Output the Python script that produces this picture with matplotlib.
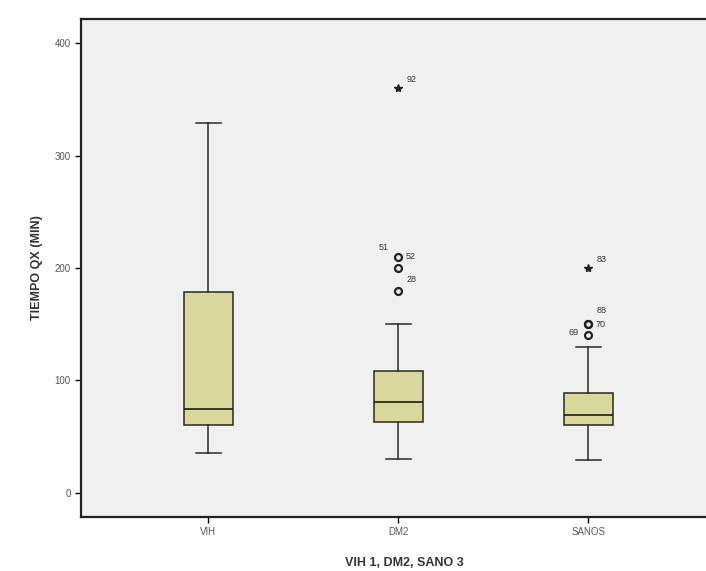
import matplotlib.pyplot as plt

# groups and box statistics (minutes)
groups = ['VIH', 'DM2', 'SANOS']
whisk_lo = [35, 30, 29]
q1 = [60, 63, 60]
medians = [75, 81, 69]
q3 = [179, 108, 89]
whisk_hi = [329, 150, 130]

# outliers (circles) and extremes (stars), with case labels
out_group = [2, 2, 2, 3, 3, 3]
out_vals = [210, 200, 180, 150, 150, 140]
out_labels = ['52', '51', '28', '70', '88', '69']
ext_group = [2, 3]
ext_vals = [360, 200]
ext_labels = ['92', '83']

plt.rcParams['font.family'] = ['Liberation Sans', 'DejaVu Sans']

fig = plt.figure(figsize=(7.06, 5.71), dpi=100)
ax = fig.add_axes([0.1147, 0.0946, 0.915, 0.872])
ax.set_facecolor('#f0f0f0')

stats = []
for i, g in enumerate(groups):
    stats.append({'label': g, 'whislo': whisk_lo[i], 'q1': q1[i], 'med': medians[i],
                  'q3': q3[i], 'whishi': whisk_hi[i], 'fliers': []})

ax.bxp(stats, positions=[1, 2, 3], widths=0.26, patch_artist=True, showfliers=False,
       boxprops=dict(facecolor='#d8d89c', edgecolor='#2a2a1a', linewidth=1.1),
       medianprops=dict(color='#2a2a1a', linewidth=1.3),
       whiskerprops=dict(color='#2a2a2a', linewidth=1.1),
       capprops=dict(color='#2a2a2a', linewidth=1.1))

ax.plot(out_group, out_vals, 'o', mfc='none', mec='#222222', mew=1.6, ms=5, ls='none')
ax.plot(ext_group, ext_vals, '*', color='#222222', ms=6, ls='none')

# case labels for outliers
offsets = {'52': (5, 0), '51': (-14, 15), '28': (6, 8), '70': (5, 0), '88': (6, 10), '69': (-14, 2)}
for g, v, lab in zip(out_group, out_vals, out_labels):
    ax.annotate(lab, (g, v), xytext=offsets[lab], textcoords='offset points',
                fontsize=6.5, color='#333333', va='center')
for g, v, lab in zip(ext_group, ext_vals, ext_labels):
    ax.annotate(lab, (g, v), xytext=(6, 6), textcoords='offset points',
                fontsize=6.5, color='#333333', va='center')

ax.set_xlim(0.33, 3.73)
ax.set_ylim(-21.5, 421.5)
ax.set_yticks([0, 100, 200, 300, 400])
ax.tick_params(axis='both', labelsize=7, labelcolor='#555555', length=4, width=1, direction='out')
ax.set_xticks([1, 2, 3], groups)

for s in ax.spines.values():
    s.set_linewidth(1.6)
    s.set_color('#222222')

ax.set_ylabel('TIEMPO QX (MIN)', fontsize=9, fontweight='bold', color='#333333', labelpad=8)
ax.set_xlabel('VIH 1, DM2, SANO 3', fontsize=9, fontweight='bold', color='#333333', labelpad=14)

plt.savefig('out.png', dpi=100)
